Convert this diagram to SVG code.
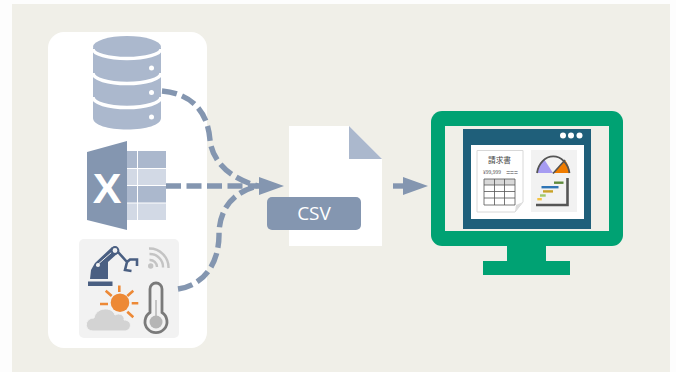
<svg xmlns="http://www.w3.org/2000/svg" width="676" height="372" viewBox="0 0 676 372">
<style>
.flow{fill:none;stroke:#8496b0;stroke-width:5.400;stroke-dasharray:15 5.500}
.solid{fill:#8496b0}
.db{fill:#abb8cd}
.band{fill:none;stroke:#fff;stroke-width:3.400}
.xd{fill:#abb8cd}
.xl{fill:#d2d9e5}
.green{fill:#00a273}
.tbl{fill:none;stroke:#555;stroke-width:.8}
.ray{stroke:#ed8936;stroke-width:2.600;fill:none}
.wifi{fill:none;stroke:#c4c4c4;stroke-width:2.400}
.robot{fill:#4a5f82}
.robotl{fill:none;stroke:#4a5f82;stroke-width:2.600}
.gtxt{font-family:"Noto Sans CJK JP","Liberation Sans",sans-serif;fill:#444}
</style>
<rect width="676" height="372" fill="#fdfdfd"/>
<rect x="12" y="4" width="658" height="368" fill="#f0efe8"/>
<rect x="48" y="32" width="159" height="316" rx="16" fill="#fff"/>
<g id="database">
<path class="db" d="M93 48V118C93 125 108 129.500 127 129.500S161 125 161 118V48Z"/>
<ellipse cx="127" cy="47" rx="34" ry="11" class="db"/>
<path class="band" d="M93 49C93 54 108 58.500 127 58.500S161 54 161 49"/>
<path class="band" d="M93 73C93 79 108 83.500 127 83.500S161 79 161 73"/>
<path class="band" d="M93 97C93 103 108 107.500 127 107.500S161 103 161 97"/>
<circle cx="151.500" cy="68" r="2.500" fill="#fff"/><circle cx="151.500" cy="92.500" r="2.500" fill="#fff"/><circle cx="151.500" cy="117" r="2.500" fill="#fff"/>
</g>
<g id="excel">
<rect class="xd" x="127" y="151" width="10" height="17"/><rect class="xd" x="138" y="151" width="28" height="17"/>
<rect class="xl" x="127" y="169" width="10" height="16"/><rect class="xl" x="138" y="169" width="28" height="16"/>
<rect class="xd" x="127" y="186" width="10" height="16.500"/><rect class="xd" x="138" y="186" width="28" height="16.500"/>
<rect class="xl" x="127" y="203.500" width="10" height="16.500"/><rect class="xl" x="138" y="203.500" width="28" height="16.500"/>
<path d="M87 152L127 141V230L87 220Z" fill="#8496b0"/>
<text x="107" y="203" text-anchor="middle" font-family="'Liberation Sans',sans-serif" font-weight="bold" font-size="43" fill="#fff">X</text>
</g>
<g id="sensors">
<rect x="79" y="239" width="100" height="99" rx="5" fill="#f2f2f2"/>
<path class="robot" d="M88 281.500H112.500V286H88ZM90 279L91 270L95 263L112 247L118 253L108 262V279Z"/>
<path d="M96 266L112 252" stroke="#f2f2f2" stroke-width="1"/>
<circle cx="115" cy="250.500" r="3.400" fill="#f2f2f2" stroke="#4a5f82" stroke-width="2"/>
<circle cx="98" cy="265" r="2" fill="#f2f2f2"/>
<path class="robotl" d="M118 252L127 262M127 262L130 259.500H137V266M127 262L125 270L131.500 271"/>
<circle cx="150.700" cy="266" r="2.700" fill="#c4c4c4"/>
<path class="wifi" d="M149.500 260A7 7 0 0 1 157 267M149.500 254A13 13 0 0 1 163 267.500M149 248.500A19 19 0 0 1 168.500 268"/>
<path class="ray" d="M119.300 285.500V292M100 304H108M105.700 290.700L111.700 296M133.300 290.700L127.300 296M131.700 303.300H138.300M127.300 311.700L133.300 317.300"/>
<circle cx="120" cy="302.700" r="9.300" fill="#ed8936"/>
<path d="M93 331C84 331 84 318 94 318C96 307 112 306 115 315C120 312 125 316 124 320C133 320 132 331 124 331Z" fill="#d3d3d3" stroke="#f2f2f2" stroke-width="1"/>
<path d="M150 289A6 6 0 0 1 162 289V312.500A11 11 0 1 1 150 312.500Z" fill="#f2f2f2" stroke="#7a7a7a" stroke-width="2.800"/>
<path d="M156 300V316" stroke="#b5b5b5" stroke-width="1.500"/>
<circle cx="156" cy="322" r="6.500" fill="#b5b5b5"/>
</g>
<g id="connectors">
<path class="flow" d="M162 91C195 94 208 115 210 140C212 160 228 178 258 186"/>
<path class="flow" d="M166 186H260"/>
<path class="flow" d="M178 289C205 285 219 262 219 235C219 210 232 192 258 186"/>
<path class="solid" d="M259 177L284 186L259 195Z"/>
<path d="M393 186H405" stroke="#8496b0" stroke-width="5.400"/>
<path class="solid" d="M403 177L428 186L403 195Z"/>
</g>
<g id="csv">
<path d="M289 126H349L382 159V246H289Z" fill="#fff"/>
<path d="M349 126V159H382Z" fill="#abb8cd"/>
<rect x="267" y="197" width="94" height="33" rx="5" fill="#8496b0"/>
<text x="314" y="219.500" text-anchor="middle" font-family="'Open Sans',sans-serif" font-size="19" fill="#fff">CSV</text>
</g>
<g id="monitor">
<rect class="green" x="507" y="240" width="39" height="25"/>
<rect class="green" x="483" y="261" width="87" height="14"/>
<rect class="green" x="431" y="111" width="192" height="135" rx="11"/>
<rect x="445" y="126" width="164" height="105" fill="#f0efe8"/>
<rect x="463" y="129" width="128" height="100" fill="#1f5f7a"/>
<rect x="471" y="145" width="113" height="74" fill="#fff"/>
<circle cx="563" cy="135.500" r="3" fill="#fff"/><circle cx="571" cy="135.500" r="3" fill="#fff"/><circle cx="579.500" cy="135.500" r="3" fill="#fff"/>
<g id="invoice">
<path d="M477 150.500H523V202L515 212H477Z" fill="#fff" stroke="#d8d8d8" stroke-width="1"/>
<path d="M523 202L515 212L516 205Z" fill="#ddd"/>
<text class="gtxt" x="499.500" y="162.500" text-anchor="middle" font-size="7.700">請求書</text>
<text class="gtxt" x="492" y="174" text-anchor="middle" font-size="5">¥99,999</text>
<text class="gtxt" x="512" y="174.500" text-anchor="middle" font-size="7">===</text>
<rect x="484" y="179" width="31" height="6" fill="#d8d8d8"/>
<path class="tbl" d="M484 179H515V205H484ZM484 185H515M484 191.500H515M484 198H515M494.500 179V205M504.500 179V205"/>
</g>
<g id="dashboard">
<rect x="531" y="150" width="46" height="62" fill="#f2f2f2"/>
<path d="M553 173L544 159A16.500 20 0 0 0 537 173Z" fill="#a69cf2"/>
<path d="M553 173L565 160A16.500 20 0 0 1 569.500 173Z" fill="#f07c00"/>
<path d="M537 173A16.500 20 0 0 1 569.500 173" fill="none" stroke="#555" stroke-width="1.800"/>
<path d="M553 173.500L565 160" stroke="#555" stroke-width="1.600"/>
<path d="M567.500 178V205H536" fill="none" stroke="#555" stroke-width="2.600"/>
<rect x="554" y="181.500" width="9.500" height="2.400" fill="#5f8a3c"/>
<rect x="541.500" y="186" width="17" height="2.400" fill="#2e75b6"/>
<rect x="543" y="190.200" width="10" height="2.400" fill="#c9a227"/>
<rect x="540" y="194.300" width="5.700" height="2.400" fill="#a0c96a"/>
<rect x="537.300" y="198" width="4.500" height="2.400" fill="#f5c242"/>
</g>
</g>
</svg>
